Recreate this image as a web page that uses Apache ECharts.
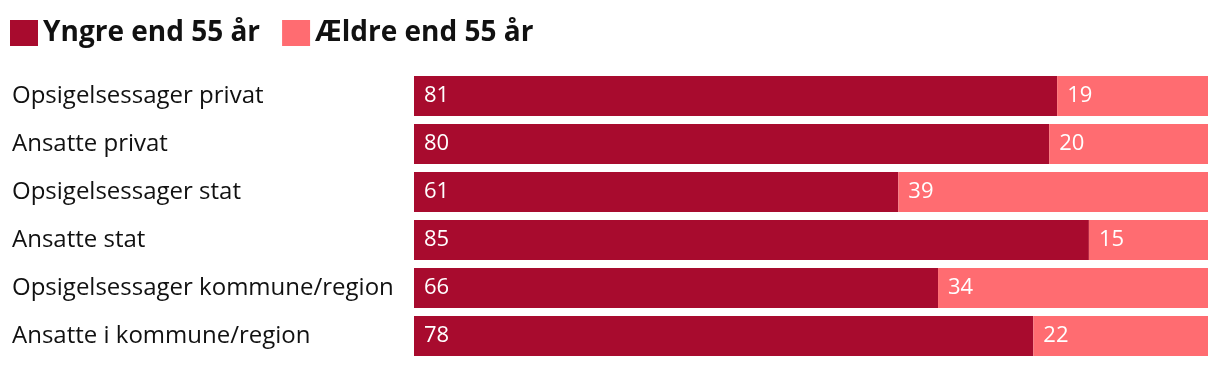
<!DOCTYPE html>
<html><head><meta charset="utf-8">
<script src="https://cdn.jsdelivr.net/npm/echarts@6/dist/echarts.min.js"></script>
<style>html,body{margin:0;padding:0;background:#fff}#c{width:1220px;height:366px}</style>
</head><body><div id="c"></div>
<script>
const categories = ["Opsigelsessager privat","Ansatte privat","Opsigelsessager stat","Ansatte stat","Opsigelsessager kommune/region","Ansatte i kommune/region"];
const younger = [81,80,61,85,66,78];
const older = [19,20,39,15,34,22];
const seriesNames = ["Yngre end 55 år","Ældre end 55 år"];
const colors = ["#A80B2E","#FF6C71"];
const font = "'Open Sans', sans-serif";
const chart = echarts.init(document.getElementById('c'));
const lbl = {show:true,position:'insideLeft',distance:10,color:'#fff',fontSize:22,fontFamily:font};
chart.setOption({
  animation:false,
  color:colors,
  legend:{left:10,top:19,padding:0,itemWidth:28,itemHeight:26,itemGap:22,icon:'rect',
    textStyle:{fontFamily:font,fontWeight:'bold',fontSize:28,color:'#111'},
    data:seriesNames},
  grid:{left:414,right:12,top:72,bottom:6,containLabel:false},
  xAxis:{type:'value',min:0,max:100,show:false},
  yAxis:{type:'category',data:categories,inverse:true,axisLine:{show:false},axisTick:{show:false},
    axisLabel:{align:'left',margin:402,fontFamily:font,fontSize:24,color:'#111'}},
  series:[
    {name:seriesNames[0],type:'bar',stack:'a',data:younger,barWidth:40,label:lbl},
    {name:seriesNames[1],type:'bar',stack:'a',data:older,barWidth:40,label:lbl}
  ]
});
</script></body></html>
